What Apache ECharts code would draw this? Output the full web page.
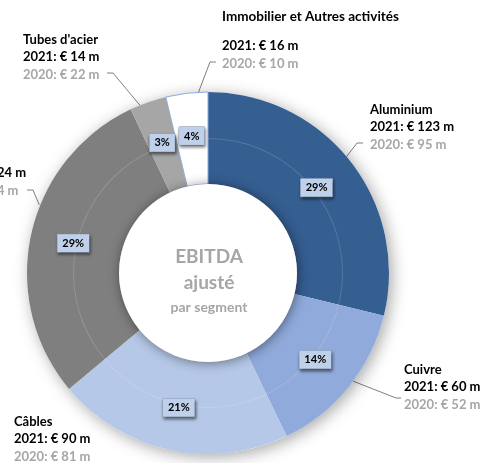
<!DOCTYPE html>
<html>
<head>
<meta charset="utf-8">
<script src="https://cdn.jsdelivr.net/npm/echarts@6/dist/echarts.min.js"></script>
<style>
  html, body { margin: 0; padding: 0; background: #fff; }
  #chart { width: 486px; height: 463px; }
</style>
</head>
<body>
<div id="chart"></div>
<script>
// EBITDA ajusté par segment (€ m)
var segments = ['Aluminium', 'Cuivre', 'Câbles', 'Acier', "Tubes d'acier", 'Immobilier et Autres activités'];
var ebitda2021 = [123, 60, 90, 124, 14, 16];
var ebitda2020 = [95, 52, 81, 44, 22, 10];

var segColors = ['#355E91', '#8FAADB', '#B5C8E7', '#7F7F7F', '#A6A6A6', '#FFFFFF'];

var cx = 208, cy = 273, rIn = 89, rOut = 181;

// where each outside label sits and how its leader line bends
var labelSpots = [
  { x: 370, y: 102, knee: [357, 143], end: [363, 143] },
  { x: 404, y: 362, knee: [396, 398], end: [401, 398] },
  { x: 14, y: 414, noLine: true },
  { x: -58, y: 148, knee: [33, 190], end: [27, 190], ang: 292, r: 182 },
  { x: 23, y: 32, knee: [113, 73], end: [107, 73] },
  { x: 222, y: -3, knee: [210, 62], end: [216, 62] }
];

var total = ebitda2021.reduce(function (a, b) { return a + b; }, 0);
var midAngles = [];
var acc = 0;
ebitda2021.forEach(function (v) {
  midAngles.push((acc + v / 2) / total * 360);
  acc += v;
});

var chart = echarts.init(document.getElementById('chart'));

var pieData = segments.map(function (name, i) {
  var item = { name: name, value: ebitda2021[i], itemStyle: { color: segColors[i] } };
  if (i === 5) {
    item.itemStyle.borderColor = '#8EA9DB';
    item.itemStyle.borderWidth = 1;
  }
  return item;
});

var font = 'Lato, "Open Sans", sans-serif';

var option = {
  animation: false,
  graphic: [
    { type: 'text', z: 100, style: { x: cx + 1, y: 257, text: 'EBITDA', fill: '#A6A6A6', font: 'bold 19px ' + font, textAlign: 'center', textVerticalAlign: 'middle' } },
    { type: 'text', z: 100, style: { x: cx + 1, y: 283, text: 'ajusté', fill: '#A6A6A6', font: 'bold 19px ' + font, textAlign: 'center', textVerticalAlign: 'middle' } },
    { type: 'text', z: 100, style: { x: cx + 1, y: 307, text: 'par segment', fill: '#A6A6A6', font: 'bold 14px ' + font, textAlign: 'center', textVerticalAlign: 'middle' } }
  ],
  series: [
    {
      // shadow under the ring
      type: 'pie', silent: true, center: [cx, cy], radius: [rIn, rOut],
      label: { show: false }, labelLine: { show: false },
      itemStyle: { color: '#fff', shadowBlur: 16, shadowColor: 'rgba(0,0,0,0.35)', shadowOffsetX: 3, shadowOffsetY: 3 },
      data: [{ value: 1 }]
    },
    {
      type: 'pie', silent: true, center: [cx, cy], radius: [rIn, rOut],
      startAngle: 90,
      data: pieData,
      label: {
        show: true,
        position: 'outside',
        overflow: 'none',
        width: 220,
        fontFamily: font,
        formatter: function (p) {
          var i = p.dataIndex;
          var head = i === 5 ? '{t|' + p.name + '}' : '{n|' + p.name + '}';
          return head + '\n{a|2021: € ' + ebitda2021[i] + ' m}\n{b|2020: € ' + ebitda2020[i] + ' m}';
        },
        rich: {
          t: { fontFamily: font, fontWeight: 'bold', fontSize: 13.5, color: '#000', lineHeight: 40 },
          n: { fontFamily: font, fontWeight: 'bold', fontSize: 13, color: '#000', lineHeight: 16 },
          a: { fontFamily: font, fontWeight: 'bold', fontSize: 13, color: '#000', lineHeight: 18 },
          b: { fontFamily: font, fontWeight: 'bold', fontSize: 13, color: '#A6A6A6', lineHeight: 18 }
        }
      },
      labelLine: { show: true, lineStyle: { color: '#7F7F7F', width: 1 } },
      labelLayout: function (p) {
        var s = labelSpots[p.dataIndex];
        var out = { x: s.x, y: s.y, align: 'left', verticalAlign: 'top' };
        if (s.noLine) {
          out.labelLinePoints = [[s.x, s.y], [s.x, s.y], [s.x, s.y]];
        } else {
          var a = (s.ang != null ? s.ang : midAngles[p.dataIndex]) * Math.PI / 180;
          var r = s.r || 158;
          out.labelLinePoints = [[cx + r * Math.sin(a), cy - r * Math.cos(a)], s.knee, s.end];
        }
        return out;
      }
    },
    {
      // thin guide circle in the middle of the ring
      type: 'pie', silent: true, center: [cx, cy], radius: [134, 135],
      label: { show: false }, labelLine: { show: false },
      itemStyle: { color: 'rgba(255,255,255,0.16)' },
      data: [{ value: 1 }]
    },
    {
      // raised white centre disk
      type: 'pie', silent: true, center: [cx, cy], radius: [0, rIn],
      label: { show: false }, labelLine: { show: false },
      itemStyle: { color: '#fff', shadowBlur: 12, shadowColor: 'rgba(0,0,0,0.45)', shadowOffsetX: 1, shadowOffsetY: 1 },
      data: [{ value: 1 }]
    },
    {
      // percentage boxes
      type: 'pie', silent: true, center: [cx, cy], radius: [rIn, rOut],
      startAngle: 90,
      percentPrecision: 0,
      itemStyle: { color: 'rgba(0,0,0,0)' },
      labelLine: { show: false },
      label: {
        show: true,
        position: 'inside',
        formatter: '{d}%',
        fontFamily: font,
        fontWeight: 'bold',
        fontSize: 11,
        color: '#000',
        backgroundColor: '#BFD1EA',
        borderColor: '#8A9BB5',
        borderWidth: 0.5,
        padding: [4, 5, 3, 5],
        shadowColor: 'rgba(0,0,0,0.55)',
        shadowBlur: 3,
        shadowOffsetX: 1,
        shadowOffsetY: 2
      },
      data: segments.map(function (name, i) { return { name: name, value: ebitda2021[i] }; })
    }
  ]
};

chart.setOption(option);
</script>
</body>
</html>
